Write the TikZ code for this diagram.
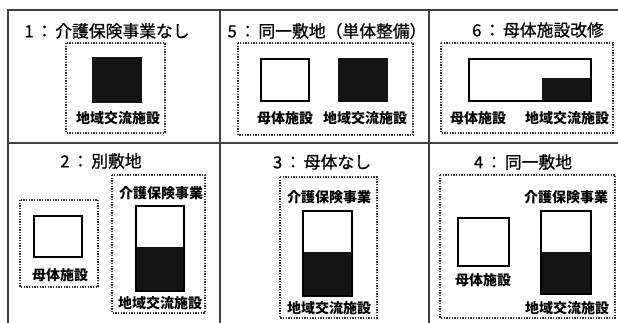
\documentclass[tikz,border=0pt]{standalone}
\usepackage{fontspec}
\newfontfamily\jp{Noto Sans CJK JP}
\newfontfamily\jpt[FakeBold=0.8]{Noto Sans CJK JP}
\tikzset{
  frameline/.style={line width=1.1pt, draw=black!75},
  dotbox/.style={draw=black!80, line width=0.9pt, dash pattern=on 0.9pt off 1.1pt},
  whitebox/.style={draw=black, line width=2.2pt, fill=white},
  blackfill/.style={fill=black!92},
  title/.style={font=\jpt\fontsize{12.6}{15}\selectfont, inner sep=0pt},
  lab/.style={font=\jp\bfseries\fontsize{10.5}{12}\selectfont, inner sep=0pt}
}
\newcommand{\clnx}{\hspace{1.8pt}：\hspace{1.8pt}}
\begin{document}
\begin{tikzpicture}[x=0.75pt,y=-0.75pt]
\useasboundingbox (0,0) rectangle (618,323);
% frame
\draw[frameline] (8,323) -- (8,10) -- (618,10);
\draw[frameline] (8,143) -- (618,143);
\draw[frameline] (220,10) -- (220,323);
\draw[frameline] (429,10) -- (429,323);

% Panel 1
\node[title] (t1) at (107,31) {1\clnx 介護保険事業なし};
\draw[dotbox] (66,43) rectangle (165,133);
\fill[blackfill] (92,57) rectangle (142,103);
\node[lab] (l1) at (118,118) {地域交流施設};

% Panel 5
\node[title] (t5) at (327,31) {5\clnx 同一敷地（単体整備）};
\draw[dotbox] (238,43) rectangle (413,135);
\draw[whitebox] (261,59) rectangle (309,101);
\fill[blackfill] (338,58) rectangle (388,102);
\node[lab] (l5a) at (285,118) {母体施設};
\node[lab] (l5b) at (365,118) {地域交流施設};

% Panel 6
\node[title] (t6) at (538,30) {6\clnx 母体施設改修};
\draw[dotbox] (441,43) rectangle (613,133);
\fill[blackfill] (542,78) rectangle (592,102);
\draw[draw=black, line width=2.2pt] (469,59) rectangle (591,101);
\node[lab] (l6a) at (478,118) {母体施設};
\node[lab] (l6b) at (567,118) {地域交流施設};

% Panel 2
\node[title] (t2) at (101,161) {2\clnx 別敷地};
\draw[dotbox] (20,200) rectangle (98,287);
\draw[whitebox] (34,216) rectangle (82,257);
\node[lab] (l2a) at (60,275) {母体施設};
\draw[dotbox] (112,175) rectangle (205,313);
\node[lab] (l2b) at (161,193) {介護保険事業};
\fill[blackfill] (135,247) rectangle (185,292);
\draw[draw=black, line width=2.2pt] (136,206) rectangle (184,291);
\node[lab] (l2c) at (160,303) {地域交流施設};

% Panel 3
\node[title] (t3) at (322,162) {3\clnx 母体なし};
\draw[dotbox] (280,177) rectangle (377,318);
\node[lab] (l3a) at (329,197) {介護保険事業};
\fill[blackfill] (302,252) rectangle (353,297);
\draw[draw=black, line width=2.2pt] (303,211) rectangle (352,296);
\node[lab] (l3b) at (329,308) {地域交流施設};

% Panel 4
\node[title] (t4) at (523,162) {4\clnx 同一敷地};
\draw[dotbox] (440,175) rectangle (615,318);
\node[lab] (l4a) at (566,197) {介護保険事業};
\draw[whitebox] (458,218) rectangle (509,266);
\node[lab] (l4b) at (483,280) {母体施設};
\fill[blackfill] (540,252) rectangle (592,295);
\draw[draw=black, line width=2.2pt] (541,211) rectangle (591,294);
\node[lab] (l4c) at (567,308) {地域交流施設};
\end{tikzpicture}
\end{document}
